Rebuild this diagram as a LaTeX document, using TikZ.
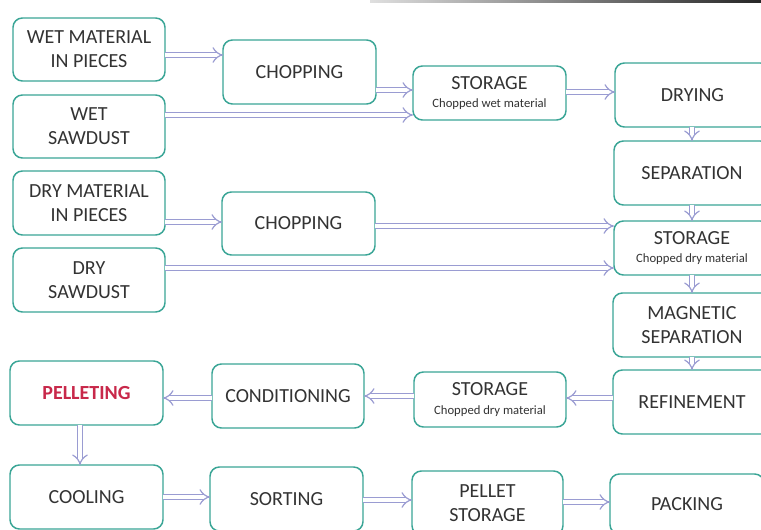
\documentclass[tikz,border=0pt]{standalone}
\usepackage{fontspec}
\setmainfont{Carlito}
\usetikzlibrary{arrows.meta}
\definecolor{boxc}{HTML}{3AA596}
\definecolor{txtc}{HTML}{333333}
\definecolor{arrc}{HTML}{9A9CD2}
\definecolor{redc}{HTML}{C8284A}
\tikzset{
  box/.style={draw=boxc, line width=1.1pt, rounded corners=7pt, fill=white,
    inner sep=0pt, outer sep=0pt, align=center, text=txtc,
    font=\fontsize{15}{18}\selectfont},
  arr/.style={draw=arrc, line width=0.9pt, double=white, double distance=3.2pt, -{Implies[scale=1.25]}},
}
\newcommand\mybox[6]{\node[box, minimum width={(#4-#2)*0.75pt}, minimum height={(#5-#3)*0.75pt}] (#1) at ({(#2+#4)/2},{(#3+#5)/2+1}) {#6};}
\newcommand\subt[1]{{\fontsize{9.5}{11}\selectfont #1}}
\begin{document}
\begin{tikzpicture}[x=0.75pt,y=-0.75pt]
\useasboundingbox (0,0) rectangle (761,530);
\clip (0,0) rectangle (761,530);
\shade[left color=gray!25, right color=black!85] (370,0) rectangle (761,2.5);
% column 1
\mybox{wm}{13}{17}{165}{80}{WET MATERIAL\\IN PIECES}
\mybox{ws}{13}{94}{165}{157}{WET\\SAWDUST}
\mybox{dm}{13}{170}{165}{234}{DRY MATERIAL\\IN PIECES}
\mybox{ds}{13}{247}{165}{311}{DRY\\SAWDUST}
\mybox{pel}{10}{360}{163}{424}{\textcolor{redc}{\textbf{PELLETING}}}
\mybox{cool}{10}{464}{163}{528}{COOLING}
% column 2
\mybox{ch1}{223}{39}{376}{103}{CHOPPING}
\mybox{ch2}{222}{191}{375}{254}{CHOPPING}
\mybox{cond}{212}{363}{364}{427}{CONDITIONING}
\mybox{sort}{210}{466}{363}{530}{SORTING}
% column 3
\mybox{stw}{413}{65}{566}{119}{STORAGE\\[-4pt]\subt{Chopped wet material}}
\mybox{stb}{414}{371}{566}{426}{STORAGE\\[-4pt]\subt{Chopped dry material}}
\mybox{pst}{412}{470}{563}{534}{PELLET\\STORAGE}
% column 4
\mybox{dry}{615}{62}{770}{126}{DRYING}
\mybox{sep}{614}{140}{770}{204}{SEPARATION}
\mybox{std}{614}{220}{770}{274}{STORAGE\\[-4pt]\subt{Chopped dry material}}
\mybox{mag}{613}{292}{771}{356}{MAGNETIC\\SEPARATION}
\mybox{ref}{613}{369}{771}{433}{REFINEMENT}
\mybox{pack}{610}{473}{764}{533}{PACKING}
% arrows
\draw[arr] (wm.east |- 0,55) -- (ch1.west |- 0,55);
\draw[arr] (ch1.east |- 0,90) -- (stw.west |- 0,90);
\draw[arr] (ws.east |- 0,115) -- (stw.west |- 0,115);
\draw[arr] (stw.east |- 0,92) -- (dry.west |- 0,92);
\draw[arr] (dry.south -| 692,0) -- (sep.north -| 692,0);
\draw[arr] (sep.south -| 692,0) -- (std.north -| 692,0);
\draw[arr] (dm.east |- 0,222) -- (ch2.west |- 0,222);
\draw[arr] (ch2.east |- 0,226) -- (std.west |- 0,226);
\draw[arr] (ds.east |- 0,268) -- (std.west |- 0,268);
\draw[arr] (std.south -| 692,0) -- (mag.north -| 692,0);
\draw[arr] (mag.south -| 692,0) -- (ref.north -| 692,0);
\draw[arr] (ref.west |- 0,398) -- (stb.east |- 0,398);
\draw[arr] (stb.west |- 0,396) -- (cond.east |- 0,396);
\draw[arr] (cond.west |- 0,398) -- (pel.east |- 0,398);
\draw[arr] (pel.south -| 80,0) -- (cool.north -| 80,0);
\draw[arr] (cool.east |- 0,497) -- (sort.west |- 0,497);
\draw[arr] (sort.east |- 0,500) -- (pst.west |- 0,500);
\draw[arr] (pst.east |- 0,502) -- (pack.west |- 0,502);
\end{tikzpicture}
\end{document}
